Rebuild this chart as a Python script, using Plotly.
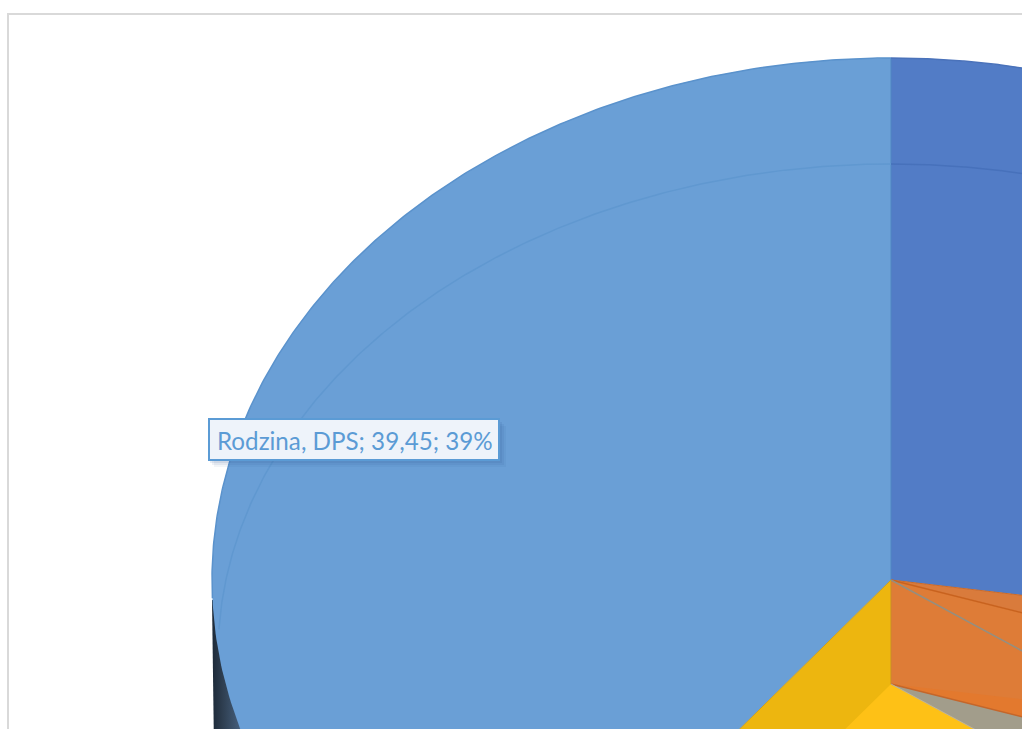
import math
import plotly.graph_objects as go

# ---- data ----
slice_names = ["slice 1", "slice 2", "slice 3", "slice 4", "Rodzina, DPS"]
slice_values = [27.4, 2.6, 4.75, 25.8, 39.45]
label_slice = "Rodzina, DPS"

# ---- styles ----
top_colors = ["#527CC6", "#D97B3C", "#DE7C37", "#EDB60F", "#6A9FD6"]
lower_colors = [None, "#E3792E", "#A29D8B", "#FEC116", None]
W, H = 1022, 729
CX, CY, RX, RY = 891, 580, 679, 522
DROP = 104
RING = (891, 655, 673, 491)


def ell(deg, cx=CX, cy=CY, rx=RX, ry=RY):
    t = math.radians(deg)
    return cx + rx * math.sin(t), cy - ry * math.cos(t)


def arc(a, b, cx=CX, cy=CY, rx=RX, ry=RY, n=240):
    pts = [ell(a + (b - a) * i / n, cx, cy, rx, ry) for i in range(n + 1)]
    return [p[0] for p in pts], [p[1] for p in pts]


total = sum(slice_values)
angles = [0.0]
for v in slice_values:
    angles.append(angles[-1] + v / total * 360)

fig = go.Figure()


def poly(xs, ys, color):
    fig.add_trace(go.Scatter(x=xs, y=ys, mode="lines", fill="toself", fillcolor=color,
                             line=dict(width=0), hoverinfo="skip", showlegend=False))


def line(xs, ys, color, width=1):
    fig.add_trace(go.Scatter(x=xs, y=ys, mode="lines", line=dict(color=color, width=width),
                             hoverinfo="skip", showlegend=False))


def sector(a, b, color, cy=CY):
    xs, ys = arc(a, b, cy=cy)
    poly([CX] + xs + [CX], [cy] + ys + [cy], color)


# dark outer side of the pie, visible below the left edge of the top surface
side_x = [CX - RX, CX - RX + 2, CX - RX + 70, CX - RX + 70]
side_y = [600, H + 20, H + 20, 600]
fig.add_trace(go.Scatter(
    x=side_x, y=side_y, mode="lines", fill="toself", line=dict(width=0),
    fillgradient=dict(type="horizontal",
                      colorscale=[[0, "#1C2938"], [0.15, "#2E3E50"], [0.42, "#47617F"], [1, "#5A7EA6"]]),
    hoverinfo="skip", showlegend=False))

# upper surface
for i in range(len(slice_values)):
    sector(angles[i], angles[i + 1], top_colors[i])

# inner wall of the dropped slices
wall = angles[3]
p1 = ell(wall)
p2 = ell(wall, cy=CY + DROP)
poly([CX, CX, p2[0], p1[0], CX], [CY, CY + DROP, p2[1], p1[1], CY], top_colors[2])

# dropped surface
for i in range(len(slice_values)):
    if lower_colors[i]:
        sector(angles[i], angles[i + 1], lower_colors[i], cy=CY + DROP)

# edges
line([CX, CX], [CY - RY, CY], "#4E86C2", 1)
line([CX, CX], [CY, CY + DROP], "#C98A2A", 1)
for idx, col in ((1, "#C96A2A"), (2, "#C8621E"), (3, "#948E80"), (4, "#C9A020")):
    p = ell(angles[idx])
    line([CX, p[0]], [CY, p[1]], col, 1.5 if idx in (2, 3) else 1)
p = ell(angles[2], cy=CY + DROP)
line([CX, p[0]], [CY + DROP, p[1]], "#C4662A", 1.5)
p = ell(angles[3], cy=CY + DROP)
line([CX, p[0]], [CY + DROP, p[1]], "#B9B3A0", 1)

# bevel ring and rim
line(*arc(273, 360, *RING), "#6098D0", 1.5)
line(*arc(0, 30, *RING), "#4771BB", 1.5)
line(*arc(268, 360), "#5A92CC", 1.5)
line(*arc(0, 20), "#4A72BA", 1.5)

# label box with soft shadow
BX0, BY0, BX1, BY1 = 209, 419, 499, 460
shapes = [dict(type="rect", xref="x", yref="y", x0=8, y0=14, x1=W + 20, y1=H + 20,
               line=dict(color="#D9D9D9", width=2), fillcolor="rgba(0,0,0,0)", layer="above")]
for off, alpha in ((7, 0.06), (5, 0.08), (3, 0.10)):
    shapes.append(dict(type="rect", xref="x", yref="y", x0=BX0 + off - 2, y0=BY0 + off, x1=BX1 + off,
                       y1=BY1 + off, line=dict(width=0), fillcolor=f"rgba(40,80,140,{alpha})", layer="above"))
shapes.append(dict(type="rect", xref="x", yref="y", x0=BX0, y0=BY0, x1=BX1, y1=BY1,
                   line=dict(color="#5B9BD5", width=2), fillcolor="#EEF3FA", layer="above"))

v = slice_values[slice_names.index(label_slice)]
label_text = f"{label_slice}; {str(v).replace('.', ',')}; {round(v / total * 100)}%"

fig.update_layout(
    width=W, height=H, margin=dict(l=0, r=0, t=0, b=0),
    paper_bgcolor="white", plot_bgcolor="white", showlegend=False,
    xaxis=dict(range=[0, W], visible=False, fixedrange=True),
    yaxis=dict(range=[H, 0], visible=False, fixedrange=True),
    shapes=shapes,
    annotations=[dict(x=(BX0 + BX1) / 2 + 0.5, y=(BY0 + BY1) / 2 + 1, xref="x", yref="y", text=label_text,
                      showarrow=False, font=dict(family="Lato", size=24.2, color="#5B9BD5"))],
)
fig.write_html("out.html", config={"displayModeBar": False},
               post_script="document.body.style.margin='0';document.documentElement.style.overflow='hidden';")
